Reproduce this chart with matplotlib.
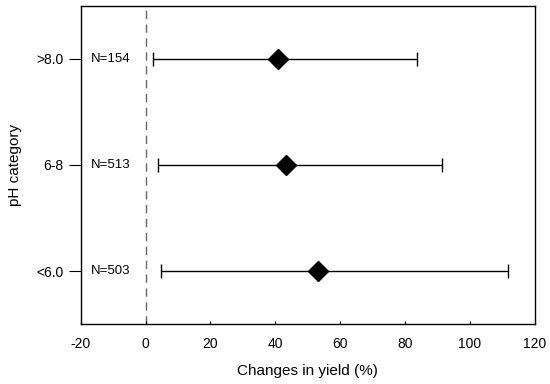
import matplotlib
matplotlib.use('Agg')
import matplotlib.pyplot as plt

plt.rcParams['font.family'] = ['Liberation Sans', 'DejaVu Sans']
plt.rcParams['axes.unicode_minus'] = False

categories = ['<6.0', '6-8', '>8.0']
n_labels = ['N=503', 'N=513', 'N=154']
means = [53.1, 43.4, 40.7]
lower = [4.7, 3.8, 2.2]
upper = [111.7, 91.5, 83.8]

ypos = [1, 2, 3]
fig = plt.figure(figsize=(5.5, 3.84), dpi=100)
ax = fig.add_axes([0.147, 0.156, 0.825, 0.829])

err_lo = [m - lo for m, lo in zip(means, lower)]
err_hi = [hi - m for m, hi in zip(means, upper)]
ax.errorbar(means, ypos, xerr=[err_lo, err_hi], fmt='D', color='k', ms=10,
            ecolor='k', elinewidth=1, capsize=5, capthick=1)

# reference line at zero
ax.axvline(0, color='#666666', lw=1, ls=(0, (6, 4)), zorder=0)

for y, lab in zip(ypos, n_labels):
    ax.text(-10.8, y, lab, ha='center', va='center', fontsize=9.5)

ax.set_xlim(-20, 120)
ax.set_ylim(0.5, 3.5)
ax.set_xticks(range(-20, 121, 20))
ax.set_yticks(ypos)
ax.set_yticklabels(categories)
ax.tick_params(axis='x', direction='in', length=2, labelsize=10, pad=9)
ax.tick_params(axis='y', direction='out', length=9, labelsize=10)
for s in ax.spines.values():
    s.set_linewidth(1)
ax.set_xlabel('Changes in yield (%)', fontsize=11, labelpad=10)
ax.set_ylabel('pH category', fontsize=11, labelpad=10)

fig.savefig('out.png', dpi=100)
